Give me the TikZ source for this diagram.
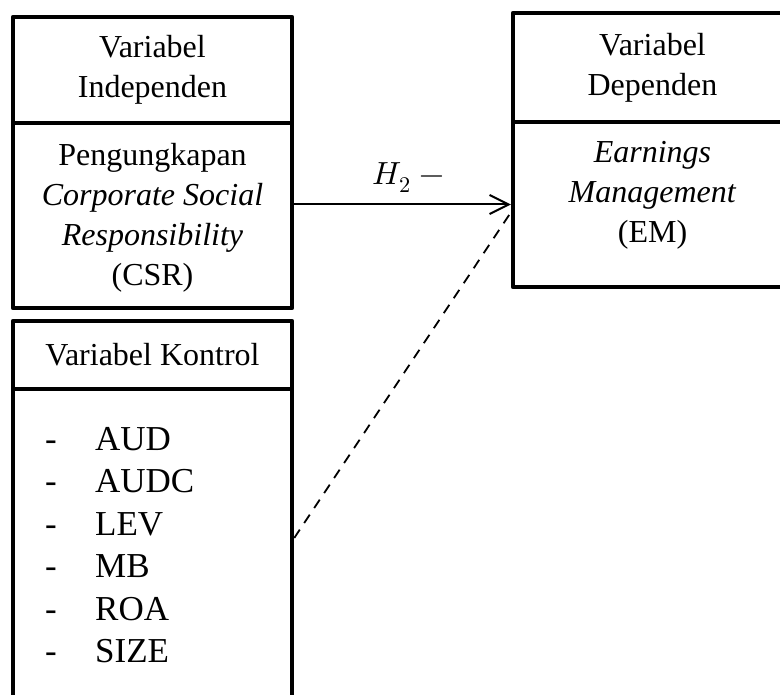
\documentclass[tikz,border=0pt]{standalone}
\usepackage{fontspec}
\usepackage{unicode-math}
\setmainfont{Liberation Serif}
\setmathfont{Latin Modern Math}
\usetikzlibrary{positioning,arrows.meta}

\tikzset{
  varbox/.style={draw, line width=4.5pt, line join=round, minimum width=279pt,
    inner sep=0pt, align=center, font=\fontsize{32}{40}\selectfont},
  vartext/.style={inner sep=0pt, align=center, font=\fontsize{32}{40}\selectfont},
  listtext/.style={inner sep=0pt, align=left, font=\fontsize{35}{42.5}\selectfont},
  hyparrow/.style={line width=2pt, -{Straight Barb[length=19pt,width=19pt,line width=2pt]}},
  ctrlline/.style={line width=1.8pt, dash pattern=on 10pt off 8pt}
}

\begin{document}
\begin{tikzpicture}[x=1pt,y=-1pt]
  \useasboundingbox (0,0) rectangle (780,695);
  \clip (0,0) rectangle (780,695);

  % independent variable
  \node[varbox, minimum height=106pt] (indephead) at (152.5,70) {Variabel\\Independen};
  \node[varbox, minimum height=185pt] (csr) at (152.5,215.5) {};
  \node[vartext] (csrtext) at (152.5,218)
    {Pengungkapan\\\textit{Corporate Social}\\\textit{Responsibility}\\(CSR)};

  % control variables
  \node[varbox, minimum height=68pt] (ctrlhead) at (152.5,355) {Variabel Kontrol};
  \node[varbox, minimum height=345pt] (ctrl) at (152.5,561.5) {};
  \node[listtext, anchor=north west] (ctrllist) at (45,427)
    {\makebox[50pt][l]{-}AUD\\\makebox[50pt][l]{-}AUDC\\\makebox[50pt][l]{-}LEV\\
     \makebox[50pt][l]{-}MB\\\makebox[50pt][l]{-}ROA\\\makebox[50pt][l]{-}SIZE};

  % dependent variable
  \node[varbox, minimum height=109pt] (dephead) at (652.5,67.5) {Variabel\\Dependen};
  \node[varbox, minimum height=165pt] (em) at (652.5,204.5) {};
  \node[vartext, anchor=north] (emtext) at (652.5,141)
    {\textit{Earnings}\\\textit{Management}\\(EM)};

  % hypothesis
  \draw[hyparrow] (csr.east |- em.west) -- node[above=8pt, xshift=6pt] (hyp)
    {\fontsize{32}{40}\selectfont$H_2\;-$} (em.west);
  \coordinate (ctrlout) at (ctrl.east |- 0,538);
  \coordinate (emin) at ([yshift=-8pt]em.west);
  \draw[ctrlline] (ctrlout) -- (emin);
\end{tikzpicture}
\end{document}
